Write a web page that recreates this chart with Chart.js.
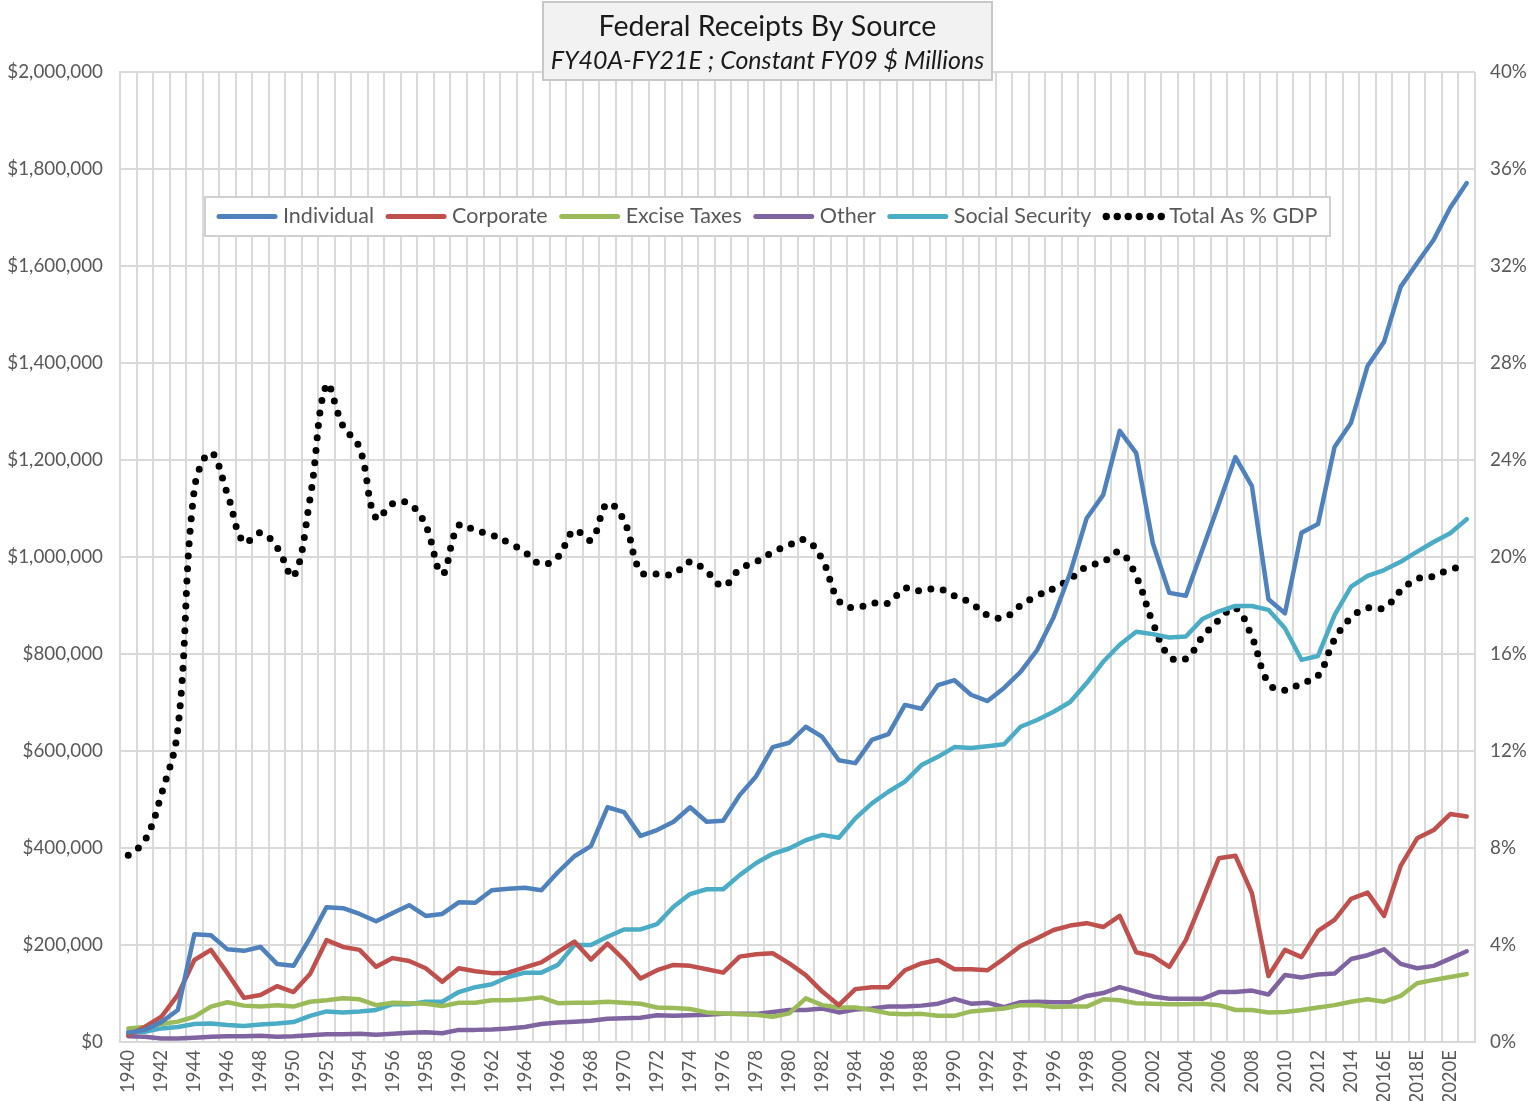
<!DOCTYPE html>
<html>
<head>
<meta charset="utf-8">
<script src="https://cdn.jsdelivr.net/npm/chart.js@4/dist/chart.umd.min.js"></script>
<style>
  html, body { margin: 0; padding: 0; background: #ffffff; }
  #wrap { position: relative; width: 1539px; height: 1101px; }
</style>
</head>
<body>
<div id="wrap"><canvas id="c" width="1539" height="1101"></canvas></div>
<script>
const titleText = 'Federal Receipts By Source';
const subtitleText = 'FY40A-FY21E ; Constant FY09 $ Millions';

const years = ['1940','1941','1942','1943','1944','1945','1946','1947','1948','1949',
  '1950','1951','1952','1953','1954','1955','1956','1957','1958','1959',
  '1960','1961','1962','1963','1964','1965','1966','1967','1968','1969',
  '1970','1971','1972','1973','1974','1975','1976','1977','1978','1979',
  '1980','1981','1982','1983','1984','1985','1986','1987','1988','1989',
  '1990','1991','1992','1993','1994','1995','1996','1997','1998','1999',
  '2000','2001','2002','2003','2004','2005','2006','2007','2008','2009',
  '2010','2011','2012','2013','2014','2015','2016E','2017E','2018E','2019E',
  '2020E','2021E'];

// $ millions (constant FY09)
const individual = [19000,25000,41000,66000,222000,220000,191000,188000,196000,161000,
  157000,214000,278000,276000,264000,249000,266000,282000,260000,264000,
  288000,287000,313000,316000,318000,313000,350000,383000,404000,484000,
  474000,425000,437000,454000,484000,454000,456000,509000,548000,608000,
  617000,650000,629000,581000,575000,623000,635000,695000,687000,736000,
  746000,716000,703000,730000,763000,808000,876000,967000,1080000,1128000,
  1260000,1214000,1029000,926000,920000,1015000,1110000,1206000,1146000,913000,
  884000,1050000,1068000,1227000,1277000,1394000,1444000,1557000,1606000,1654000,
  1720000,1771000];

const corporate = [14000,31000,52000,97000,169000,190000,142000,91000,97000,115000,
  103000,140000,210000,196000,190000,155000,173000,167000,152000,124000,
  152000,146000,142000,143000,154000,164000,186000,207000,170000,203000,
  170000,131000,148000,159000,157000,150000,143000,176000,181000,183000,
  162000,138000,104000,76000,109000,113000,113000,148000,162000,169000,
  150000,150000,148000,172000,198000,214000,231000,240000,245000,237000,
  260000,185000,177000,155000,210000,293000,379000,384000,307000,136000,
  190000,175000,229000,252000,295000,308000,260000,363000,420000,437000,
  470000,465000];

const excise = [28000,31000,37000,42000,52000,73000,82000,75000,73000,76000,
  73000,83000,86000,90000,88000,76000,81000,80000,79000,74000,
  81000,81000,86000,86000,88000,92000,80000,81000,81000,83000,
  81000,79000,71000,70000,68000,61000,59000,57000,56000,52000,
  59000,90000,76000,71000,71000,66000,59000,57000,58000,54000,
  54000,63000,66000,69000,76000,76000,72000,73000,73000,88000,
  86000,80000,79000,78000,78000,79000,76000,66000,66000,61000,
  62000,66000,71000,76000,83000,88000,83000,95000,121000,128000,
  134000,140000];

const other = [12000,11000,7000,7000,9000,11000,12000,12000,13000,11000,
  12000,14000,16000,16000,17000,15000,17000,19000,20000,18000,
  25000,25000,26000,28000,31000,37000,40000,42000,44000,48000,
  49000,50000,55000,54000,55000,56000,58000,58000,58000,62000,
  66000,66000,69000,61000,67000,69000,73000,73000,75000,79000,
  89000,79000,81000,72000,82000,83000,82000,82000,95000,101000,
  113000,104000,94000,89000,89000,89000,103000,103000,106000,98000,
  138000,133000,139000,141000,171000,179000,191000,161000,152000,157000,
  172000,187000];

const socialSecurity = [21000,21000,28000,31000,37000,38000,35000,33000,36000,38000,
  41000,54000,63000,61000,63000,66000,78000,78000,83000,83000,
  103000,113000,119000,134000,143000,143000,159000,200000,200000,217000,
  232000,232000,243000,279000,305000,315000,315000,344000,369000,388000,
  399000,416000,427000,421000,461000,492000,516000,537000,571000,588000,
  608000,606000,610000,614000,650000,664000,681000,701000,740000,784000,
  819000,846000,841000,834000,836000,872000,888000,899000,899000,891000,
  853000,788000,796000,880000,939000,961000,973000,990000,1011000,1031000,
  1049000,1078000];

// percent of GDP (right axis)
const totalPctGDP = [7.7,8.3,10.2,12.9,22.8,24.3,22.6,20.6,21.0,20.4,
  19.2,22.4,27.1,25.4,24.5,21.6,22.2,22.2,21.3,19.3,
  21.3,21.1,20.9,20.6,20.2,19.7,20.0,21.1,20.7,22.2,
  21.5,19.4,19.3,19.3,19.8,19.4,18.8,19.5,19.8,20.2,
  20.5,20.7,19.9,18.2,17.9,18.1,18.1,18.7,18.6,18.7,
  18.4,18.1,17.6,17.5,18.0,18.4,18.7,19.1,19.6,19.8,
  20.2,19.2,17.3,15.9,15.8,16.7,17.4,17.9,16.7,14.8,
  14.5,14.8,15.1,16.6,17.5,17.9,17.9,18.6,19.1,19.2,
  19.5,19.6];

const seriesNames = ['Individual','Corporate','Excise Taxes','Other','Social Security','Total As % GDP'];

const FONT = 'Lato, "Open Sans", sans-serif';
Chart.defaults.font.family = FONT;
Chart.defaults.color = '#595959';

const GRID = '#d9d9d9';

function lineDs(label, data, color) {
  return {
    label, data, borderColor: color, backgroundColor: color,
    borderWidth: 4.5, pointRadius: 0, pointHoverRadius: 0,
    tension: 0, borderJoinStyle: 'round', borderCapStyle: 'round',
    yAxisID: 'y', fill: false
  };
}

const decor = {
  id: 'decor',
  afterDraw(chart) {
    const ctx = chart.ctx;
    ctx.save();
    // Title box
    ctx.fillStyle = '#f2f2f2';
    ctx.fillRect(543, 2, 449, 78);
    ctx.strokeStyle = '#c8c8c8';
    ctx.lineWidth = 2;
    ctx.strokeRect(543, 2, 449, 78);
    ctx.fillStyle = '#1a1a1a';
    ctx.textAlign = 'center';
    ctx.textBaseline = 'middle';
    ctx.font = '28.5px ' + FONT;
    ctx.fillText(titleText, 767.5, 27);
    ctx.font = 'italic 25px ' + FONT;
    ctx.fillText(subtitleText, 767.5, 61);

    // Legend box
    const lx0 = 205, ly0 = 197, lx1 = 1330, ly1 = 236;
    ctx.fillStyle = '#ffffff';
    ctx.fillRect(lx0, ly0, lx1 - lx0, ly1 - ly0);
    ctx.strokeStyle = '#d0d0d0';
    ctx.lineWidth = 2;
    ctx.strokeRect(lx0, ly0, lx1 - lx0, ly1 - ly0);
    ctx.font = '21.5px ' + FONT;
    ctx.textAlign = 'left';
    ctx.textBaseline = 'middle';
    const cy = 216.5;
    let x = 217;
    chart.data.datasets.forEach((ds) => {
      const sampleLen = 58;
      if (ds.borderDash && ds.borderDash.length) {
        ctx.fillStyle = '#000';
        for (let k = 0; k < 6; k++) {
          ctx.beginPath();
          ctx.arc(x + 3 + k * 11, cy, 3.7, 0, Math.PI * 2);
          ctx.fill();
        }
      } else {
        ctx.strokeStyle = ds.borderColor;
        ctx.lineWidth = 5;
        ctx.lineCap = 'round';
        ctx.beginPath();
        ctx.moveTo(x + 2, cy);
        ctx.lineTo(x + sampleLen, cy);
        ctx.stroke();
      }
      const tx = x + sampleLen + 8;
      ctx.fillStyle = '#595959';
      ctx.fillText(ds.label, tx, cy);
      x = tx + ctx.measureText(ds.label).width + 12;
    });
    ctx.restore();
  }
};

new Chart(document.getElementById('c'), {
  type: 'line',
  data: {
    labels: years,
    datasets: [
      lineDs(seriesNames[0], individual, '#4F81BD'),
      lineDs(seriesNames[1], corporate, '#C0504D'),
      lineDs(seriesNames[2], excise, '#9BBB59'),
      lineDs(seriesNames[3], other, '#8064A2'),
      lineDs(seriesNames[4], socialSecurity, '#4BACC6'),
      {
        label: seriesNames[5], data: totalPctGDP, yAxisID: 'y2',
        borderColor: '#000000', backgroundColor: '#000000',
        borderWidth: 7, borderDash: [0, 12.5], borderCapStyle: 'round',
        pointRadius: 0, pointHoverRadius: 0, tension: 0.4, fill: false
      }
    ]
  },
  options: {
    responsive: false,
    animation: false,
    events: [],
    layout: { padding: { top: 72, left: 0, right: 0, bottom: 0 } },
    plugins: { legend: { display: false }, title: { display: false }, tooltip: { enabled: false } },
    scales: {
      x: {
        type: 'category',
        offset: true,
        grid: { color: GRID, lineWidth: 2, offset: true, drawTicks: false },
        border: { color: GRID, width: 2 },
        ticks: {
          autoSkip: false, maxRotation: 90, minRotation: 90, padding: 8,
          font: { size: 18.5 }, color: '#595959',
          callback: function (v, i) { return i % 2 === 0 ? years[i] : ''; }
        },
        afterFit(scale) { scale.height = 59; }
      },
      y: {
        position: 'left', min: 0, max: 2000000,
        grid: { color: GRID, lineWidth: 2, drawTicks: false },
        border: { color: GRID, width: 2 },
        ticks: {
          stepSize: 200000, padding: 17, font: { size: 18.8 }, color: '#595959',
          callback: (v) => '$' + Number(v).toLocaleString('en-US')
        },
        afterFit(scale) { scale.width = 120; }
      },
      y2: {
        position: 'right', min: 0, max: 40,
        grid: { drawOnChartArea: false, drawTicks: false },
        border: { display: false },
        ticks: {
          stepSize: 4, padding: 15, font: { size: 18.8 }, color: '#595959',
          callback: (v) => v + '%'
        },
        afterFit(scale) { scale.width = 64; }
      }
    }
  },
  plugins: [decor]
});
</script>
</body>
</html>
